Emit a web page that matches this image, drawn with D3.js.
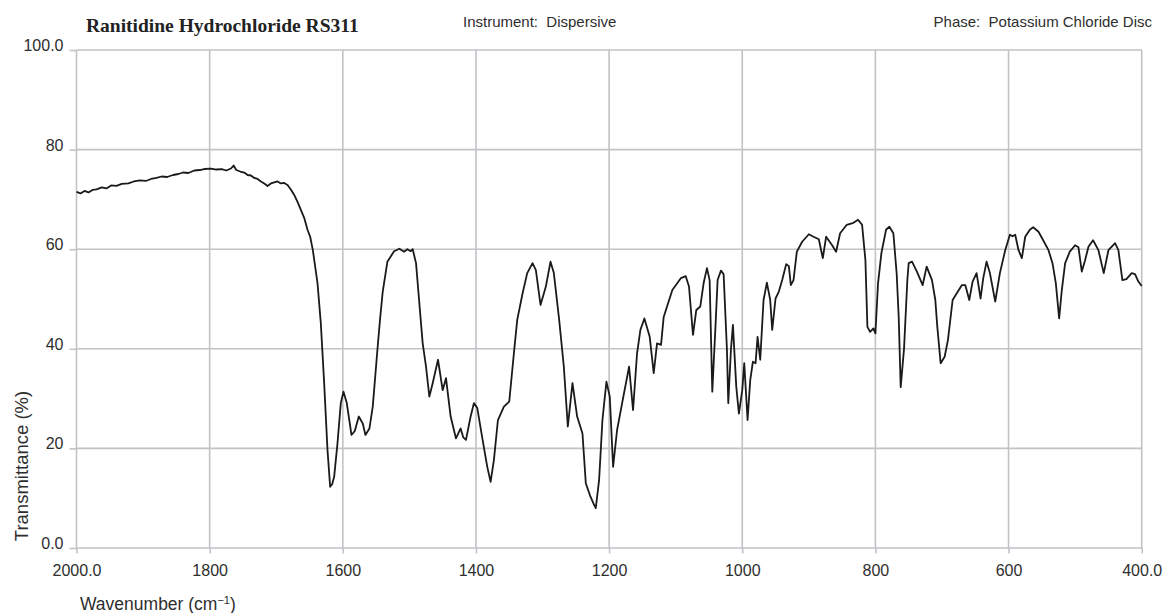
<!DOCTYPE html>
<html>
<head>
<meta charset="utf-8">
<script src="https://cdn.jsdelivr.net/npm/d3@7"></script>
<style>
  html, body { margin: 0; padding: 0; background: #fff; }
  svg { display: block; }
  .pre { white-space: pre; }
</style>
</head>
<body>
<div id="chart"></div>
<script>
// IR spectrum: Ranitidine Hydrochloride RS311 (KCl disc, dispersive instrument)
const wavenumbers = [
  2000, 1994, 1988, 1982, 1976, 1970, 1962, 1955, 1948, 1940, 1932, 1922, 1914, 1905, 1896, 1888,
  1880, 1872, 1864, 1855, 1847, 1840, 1832, 1823, 1815, 1808, 1798, 1790, 1782, 1775, 1768, 1764,
  1760, 1754, 1748, 1743, 1738, 1733, 1728, 1723, 1718, 1713, 1708, 1703, 1698, 1693, 1688, 1683,
  1678, 1673, 1668, 1663, 1658, 1653, 1649, 1645, 1638, 1633, 1628, 1623, 1619, 1616, 1613, 1608,
  1603, 1599, 1594, 1587, 1582, 1576, 1570, 1566, 1560, 1555, 1548, 1544, 1540, 1533, 1523, 1515,
  1508, 1503, 1498, 1495, 1490, 1485, 1480, 1475, 1470, 1465, 1457, 1450, 1445, 1438, 1430, 1423,
  1419, 1415, 1408, 1403, 1398, 1390, 1383, 1378, 1373, 1367, 1358, 1350, 1343, 1338, 1330, 1323,
  1315, 1310, 1303, 1295, 1288, 1283, 1275, 1268, 1262, 1255, 1248, 1240, 1235, 1228, 1222, 1220,
  1215, 1210, 1204, 1199, 1194, 1188, 1180, 1170, 1164, 1158, 1153, 1147, 1139, 1133, 1128, 1122,
  1118, 1105, 1092, 1085, 1080, 1074, 1069, 1063, 1058, 1053, 1049, 1045, 1040, 1037, 1032, 1028,
  1023, 1021, 1017, 1014, 1009, 1005, 1000, 997, 992, 988, 984, 980, 977, 973, 968, 963,
  958, 955, 950, 945, 940, 934, 930, 927, 923, 918, 910, 900, 893, 885, 879, 874,
  865, 859, 853, 843, 833, 826, 820, 815, 812, 808, 803, 800, 796, 791, 784, 779,
  773, 768, 765, 762, 757, 752, 750, 745, 738, 729, 723, 715, 710, 707, 702, 696,
  691, 684, 678, 670, 665, 659, 654, 648, 642, 638, 633, 628, 620, 613, 605, 598,
  594, 590, 585, 580, 575, 568, 563, 555, 548, 540, 534, 529, 524, 520, 515, 508,
  500, 495, 490, 485, 480, 473, 465, 457, 450, 440, 435, 429, 423, 415, 410, 405,
  400
];

const transmittance = [
  71.5, 71.2, 71.7, 71.4, 71.9, 72.0, 72.4, 72.2, 72.8, 72.7, 73.1, 73.2, 73.6, 73.8, 73.7, 74.1,
  74.3, 74.6, 74.5, 74.9, 75.1, 75.4, 75.3, 75.8, 75.9, 76.1, 76.2, 76.0, 76.1, 75.8, 76.2, 76.8,
  75.9, 75.6, 75.4, 74.9, 74.8, 74.3, 74.1, 73.6, 73.2, 72.7, 73.2, 73.4, 73.6, 73.2, 73.3, 72.9,
  72.0, 70.9, 69.5, 67.9, 66.3, 63.9, 62.5, 59.8, 53.2, 45.1, 33.1, 19.7, 12.3, 12.8, 14.3, 21.0,
  29.1, 31.4, 29.1, 22.7, 23.5, 26.4, 25.0, 22.7, 24.0, 28.4, 39.8, 46.0, 51.5, 57.5, 59.6, 60.1,
  59.5, 60.0, 59.6, 60.0, 57.2, 49.1, 41.1, 36.4, 30.4, 33.1, 37.8, 31.7, 34.1, 26.4, 22.0, 24.0,
  22.2, 21.7, 26.4, 29.1, 28.1, 21.7, 16.3, 13.3, 17.7, 25.7, 28.4, 29.4, 39.1, 45.8, 51.1, 55.2,
  57.2, 55.8, 48.8, 52.5, 57.5, 55.2, 45.8, 36.4, 24.4, 33.1, 26.4, 23.0, 13.0, 10.3, 8.5, 8.0,
  13.7, 25.7, 33.4, 30.4, 16.3, 23.7, 29.4, 36.4, 27.7, 39.1, 43.8, 46.1, 42.4, 35.1, 41.1, 40.8,
  46.4, 51.8, 54.2, 54.6, 52.5, 42.8, 47.8, 48.5, 53.2, 56.2, 53.8, 31.4, 45.1, 53.8, 55.7, 55.0,
  39.8, 29.1, 39.8, 44.8, 32.4, 27.0, 31.7, 37.1, 25.7, 33.7, 37.4, 37.1, 42.4, 37.8, 49.8, 53.3,
  49.8, 43.8, 50.1, 51.5, 53.8, 57.0, 56.6, 52.8, 53.8, 59.5, 61.5, 63.0, 62.5, 62.0, 58.2, 62.5,
  60.8, 59.5, 63.2, 64.9, 65.3, 65.9, 64.9, 57.8, 44.4, 43.4, 44.1, 43.1, 53.2, 59.2, 63.9, 64.5,
  63.2, 55.0, 46.4, 32.3, 40.0, 53.8, 57.2, 57.5, 55.6, 52.8, 56.5, 53.8, 49.8, 44.4, 37.1, 38.4,
  41.8, 49.8, 51.1, 52.8, 52.8, 49.8, 53.5, 55.2, 50.1, 54.2, 57.5, 55.2, 49.5, 55.2, 59.8, 62.9,
  62.6, 62.9, 59.8, 58.2, 62.5, 63.9, 64.4, 63.5, 61.8, 59.8, 57.2, 53.2, 46.1, 51.8, 57.2, 59.5,
  60.8, 60.4, 55.5, 57.8, 60.5, 61.8, 59.8, 55.2, 59.8, 61.2, 59.8, 53.8, 54.0, 55.2, 55.0, 53.5,
  52.6
];

const xTicks = [2000, 1800, 1600, 1400, 1200, 1000, 800, 600, 400];
const yTicks = [0, 20, 40, 60, 80, 100];
const xTickLabels = ["2000.0", "1800", "1600", "1400", "1200", "1000", "800", "600", "400.0"];
const yTickLabels = ["0.0", "20", "40", "60", "80", "100.0"];

const title = "Ranitidine Hydrochloride RS311";
const instrumentText = "Instrument:  Dispersive";
const phaseText = "Phase:  Potassium Chloride Disc";
const xTitle = "Wavenumber (cm";
const yTitle = "Transmittance (%)";

const W = 1164, H = 613;
const plotLeft = 76.5, plotRight = 1141.7, plotTop = 50, plotBottom = 548;
const sans = "'Liberation Sans', Arial, Helvetica, sans-serif";
const serif = "'Liberation Serif', 'Times New Roman', Times, serif";
const gridColor = "#c2c2c7";
const textColor = "#2e2e2e";

const svg = d3.select("#chart").append("svg")
  .attr("width", W).attr("height", H);

const x = d3.scaleLinear().domain([2000, 400]).range([plotLeft, plotRight]);
const y = d3.scaleLinear().domain([0, 100]).range([plotBottom, plotTop]);

// grid
const grid = svg.append("g").attr("stroke", gridColor).attr("stroke-width", 1.6);
grid.selectAll("line.v").data(xTicks).join("line").attr("class", "v")
  .attr("x1", d => x(d)).attr("x2", d => x(d))
  .attr("y1", y(100)).attr("y2", y(0));
grid.selectAll("line.h").data(yTicks).join("line").attr("class", "h")
  .attr("x1", x(2000)).attr("x2", x(400))
  .attr("y1", d => y(d)).attr("y2", d => y(d));

// x axis
const xAxis = svg.append("g").attr("transform", `translate(0,${plotBottom})`)
  .call(d3.axisBottom(x).tickValues(xTicks).tickSize(5.5)
    .tickFormat((d, i) => xTickLabels[i]));
xAxis.select(".domain").remove();
xAxis.selectAll(".tick line").attr("stroke", gridColor).attr("stroke-width", 1.6);
xAxis.selectAll(".tick text")
  .attr("y", 28).attr("dy", 0)
  .attr("fill", textColor)
  .style("font-family", sans).style("font-size", "16px");

// y axis
const yAxis = svg.append("g").attr("transform", `translate(${plotLeft},0)`)
  .call(d3.axisLeft(y).tickValues(yTicks).tickSize(7)
    .tickFormat((d, i) => yTickLabels[i]));
yAxis.select(".domain").remove();
yAxis.selectAll(".tick line").attr("stroke", gridColor).attr("stroke-width", 1.6);
yAxis.selectAll(".tick text")
  .attr("x", -13).attr("dy", 0).attr("y", 0.5)
  .attr("fill", textColor)
  .style("font-family", sans).style("font-size", "16px");

// spectrum trace
const pts = wavenumbers.map((w, i) => [w, transmittance[i]]);
svg.append("path")
  .datum(pts)
  .attr("fill", "none")
  .attr("stroke", "#1a1a1a")
  .attr("stroke-width", 1.8)
  .attr("stroke-linejoin", "round")
  .attr("d", d3.line().x(d => x(d[0])).y(d => y(d[1])));

// header texts
svg.append("text")
  .attr("x", 86).attr("y", 32)
  .attr("fill", "#222")
  .style("font-family", serif).style("font-weight", "bold").style("font-size", "19.5px")
  .text(title);
svg.append("text")
  .attr("class", "pre")
  .attr("x", 463).attr("y", 27)
  .attr("fill", textColor)
  .style("font-family", sans).style("font-size", "15px")
  .text(instrumentText);
svg.append("text")
  .attr("class", "pre")
  .attr("x", 1152).attr("y", 27)
  .attr("text-anchor", "end")
  .attr("fill", textColor)
  .style("font-family", sans).style("font-size", "15px")
  .text(phaseText);

// axis titles
const xt = svg.append("text")
  .attr("x", 80).attr("y", 610)
  .attr("fill", textColor)
  .style("font-family", sans).style("font-size", "17.5px");
xt.append("tspan").text(xTitle);
xt.append("tspan").attr("dy", -6).style("font-size", "11px").text("\u22121");
xt.append("tspan").attr("dy", 6).text(")");

svg.append("text")
  .attr("transform", "translate(28,466) rotate(-90)")
  .attr("text-anchor", "middle")
  .attr("fill", textColor)
  .style("font-family", sans).style("font-size", "18.5px")
  .text(yTitle);
</script>
</body>
</html>
